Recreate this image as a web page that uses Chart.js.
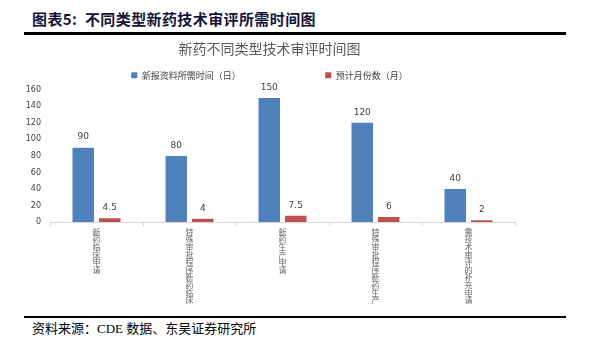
<!DOCTYPE html>
<html><head><meta charset="utf-8">
<script src="https://cdn.jsdelivr.net/npm/chart.js@4/dist/chart.umd.min.js"></script>
<style>
html,body{margin:0;padding:0;background:#fff;width:596px;height:354px;overflow:hidden;position:relative;}
#hdr{position:absolute;left:32px;top:8px;font:bold 15px "Noto Sans CJK SC",sans-serif;color:#14143a;white-space:nowrap;letter-spacing:0.4px;}
#topline{position:absolute;left:24px;top:32px;width:542px;height:3px;background:#000;}
#botline{position:absolute;left:24px;top:316px;width:542px;height:1.5px;background:#000;}
#ftr{position:absolute;left:32px;top:318px;font:13px "Liberation Serif","Noto Sans CJK SC",serif;color:#000;white-space:nowrap;}
#wrap{position:absolute;left:24px;top:36px;width:542px;height:278px;}
</style></head>
<body>
<div id="hdr">图表5:&nbsp; 不同类型新药技术审评所需时间图</div>
<div id="topline"></div>
<div id="wrap"><canvas id="c"></canvas></div>
<div id="botline"></div>
<div id="ftr">资料来源：CDE 数据、东吴证券研究所</div>
<script>
const categories = ["新药临床申请","特殊审批程序新药临床","新药生产申请","特殊审批程序新药生产","需技术审评的补充申请"];
const seriesNames = ["新报资料所需时间（日）","预计月份数（月）"];
const daysNeeded = [90, 80, 150, 120, 40];
const monthsExpected = [4.5, 4, 7.5, 6, 2];
const yTicks = [0,20,40,60,80,100,120,140,160];

const valueLabels = {
  id:'valueLabels',
  afterDatasetsDraw(chart){
    const ctx = chart.ctx;
    ctx.save();
    ctx.font = '9px "DejaVu Sans", sans-serif';
    ctx.fillStyle = '#404040';
    ctx.textAlign = 'center';
    ctx.textBaseline = 'bottom';
    chart.data.datasets.forEach((ds,i)=>{
      chart.getDatasetMeta(i).data.forEach((el,j)=>{
        ctx.fillText(String(ds.data[j]), el.x, el.y - 6);
      });
    });
    ctx.restore();
  }
};

new Chart(document.getElementById('c'), {
  type:'bar',
  data:{
    labels: categories.map(s=>s.split('')),
    datasets:[
      {label:seriesNames[0], data:daysNeeded, backgroundColor:'#4F81BD', categoryPercentage:0.57, barPercentage:0.81},
      {label:seriesNames[1], data:monthsExpected, backgroundColor:'#C0504D', categoryPercentage:0.57, barPercentage:0.81}
    ]
  },
  options:{
    responsive:true, maintainAspectRatio:false, animation:false,
    layout:{padding:{left:0,right:51,top:4,bottom:0}},
    plugins:{
      title:{display:true,text:'新药不同类型技术审评时间图',color:'#595959',
        font:{family:'"Noto Sans CJK SC", sans-serif',size:14,weight:'normal'},padding:{top:0,bottom:6}},
      legend:{position:'top',labels:{boxWidth:6,boxHeight:6,padding:8,color:'#404040',
        font:{family:'"Noto Sans CJK SC", sans-serif',size:9},
        generateLabels(chart){
          const items = Chart.defaults.plugins.legend.labels.generateLabels(chart);
          items[0].text = items[0].text + '\u3000\u3000\u3000\u3000\u3000\u3000\u3000\u3000\u3000';
          return items;
        }}},
      tooltip:{enabled:false}
    },
    scales:{
      x:{
        grid:{display:true,drawOnChartArea:false,drawTicks:true,tickLength:4,color:'#D9D9D9',offset:true},
        border:{display:true,color:'#D9D9D9'},
        ticks:{maxRotation:0,minRotation:0,autoSkip:false,color:'#666666',padding:2,
          font:{family:'"Noto Sans CJK SC", sans-serif',size:8,lineHeight:0.95}},
        afterFit(s){ s.height = 92; }
      },
      y:{
        min:0,max:160,
        grid:{display:false,drawTicks:false,tickLength:0},
        border:{display:false},
        afterBuildTicks(s){ s.ticks = yTicks.map(v=>({value:v})); },
        ticks:{color:'#404040',padding:9,font:{family:'"DejaVu Sans", sans-serif',size:8}},
        afterFit(s){ s.width = 26; }
      }
    }
  },
  plugins:[valueLabels]
});
</script>
</body></html>
